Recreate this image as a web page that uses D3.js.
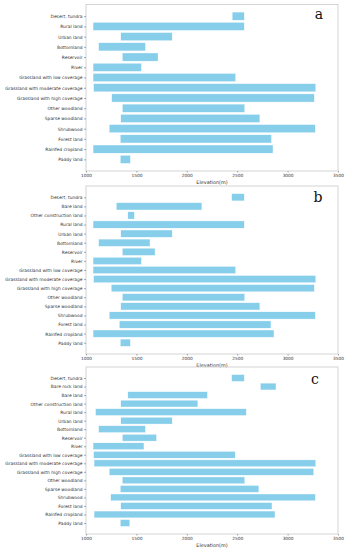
<!DOCTYPE html>
<html>
<head>
<meta charset="utf-8">
<script src="https://cdn.jsdelivr.net/npm/d3@7"></script>
<style>
  body { margin: 0; background: #fff; }
  svg { display: block; }
</style>
</head>
<body>
<svg id="chart" width="347" height="550"></svg>
<script>
// categories listed bottom -> top
const catsA = ["Paddy land", "Rainfed cropland", "Forest land", "Shrubwood", "Sparse woodland",
  "Other woodland", "Grassland with high coverage", "Grassland with moderate coverage",
  "Grassland with low coverage", "River", "Reservoir", "Bottomland", "Urban land", "Rural land",
  "Desert, tundra"];
const minA = [1340, 1070, 1340, 1230, 1345, 1360, 1255, 1075, 1070, 1070, 1360, 1125, 1345, 1070, 2450];
const maxA = [1440, 2855, 2840, 3275, 2725, 2575, 3265, 3280, 2485, 1550, 1715, 1590, 1855, 2570, 2570];

const catsB = ["Paddy land", "Rainfed cropland", "Forest land", "Shrubwood", "Sparse woodland",
  "Other woodland", "Grassland with high coverage", "Grassland with moderate coverage",
  "Grassland with low coverage", "River", "Reservoir", "Bottomland", "Urban land", "Rural land",
  "Other construction land", "Bare land", "Desert, tundra"];
const minB = [1340, 1070, 1330, 1230, 1345, 1360, 1250, 1075, 1070, 1070, 1360, 1125, 1345, 1070, 1415, 1300, 2445];
const maxB = [1440, 2865, 2835, 3275, 2725, 2575, 3265, 3280, 2485, 1550, 1685, 1635, 1855, 2570, 1480, 2150, 2570];

const catsC = ["Paddy land", "Rainfed cropland", "Forest land", "Shrubwood", "Sparse woodland",
  "Other woodland", "Grassland with high coverage", "Grassland with moderate coverage",
  "Grassland with low coverage", "River", "Reservoir", "Bottomland", "Urban land", "Rural land",
  "Other construction land", "Bare land", "Bare rock land", "Desert, tundra"];
const minC = [1340, 1080, 1345, 1245, 1340, 1360, 1230, 1080, 1075, 1070, 1360, 1125, 1345, 1095, 1345, 1415, 2730, 2445];
const maxC = [1435, 2875, 2845, 3275, 2715, 2575, 3260, 3280, 2480, 1575, 1700, 1590, 1855, 2590, 2110, 2205, 2885, 2570];

const xTicks = [1000, 1500, 2000, 2500, 3000, 3500];

const panels = [
  { cats: catsA, lo: minA, hi: maxA, top: 4.5, bottom: 171, tag: "a", tagX: 319, tagY: 19 },
  { cats: catsB, lo: minB, hi: maxB, top: 186, bottom: 354, tag: "b", tagX: 318, tagY: 202 },
  { cats: catsC, lo: minC, hi: maxC, top: 367, bottom: 534, tag: "c", tagX: 315, tagY: 384 }
];

const svg = d3.select("#chart");
const left = 86, right = 338;
const frameColor = "#d4d4d4";
const textColor = "#333";

panels.forEach(p => {
  const n = p.cats.length;
  const g = svg.append("g");

  const x = d3.scaleLinear().domain([1000, 3500]).range([left, right]);
  // matplotlib-like margins around barh (height 0.8)
  const pad = 0.05 * (n - 1 + 0.8);
  const y = d3.scaleLinear()
    .domain([-0.4 - pad, n - 1 + 0.4 + pad])
    .range([p.bottom, p.top]);
  const barH = y(0) - y(0.8);

  g.selectAll("rect.bar")
    .data(p.cats)
    .enter().append("rect")
    .attr("class", "bar")
    .attr("x", (d, i) => x(p.lo[i]))
    .attr("y", (d, i) => y(i + 0.4))
    .attr("width", (d, i) => x(p.hi[i]) - x(p.lo[i]))
    .attr("height", barH)
    .attr("fill", "#87ceeb")
    .attr("stroke", "#fff")
    .attr("stroke-width", 0.4);

  // frame
  g.append("rect")
    .attr("x", left).attr("y", p.top)
    .attr("width", right - left).attr("height", p.bottom - p.top)
    .attr("fill", "none")
    .attr("stroke", frameColor)
    .attr("stroke-width", 1);

  // y axis
  const yAxis = g.append("g")
    .attr("transform", "translate(" + left + ",0)")
    .call(d3.axisLeft(y).tickValues(d3.range(n)).tickSize(2).tickPadding(1.5)
      .tickFormat(i => p.cats[i]));
  yAxis.select(".domain").remove();
  yAxis.selectAll(".tick line").attr("stroke", "#555").attr("stroke-width", 0.5);
  yAxis.selectAll(".tick text")
    .attr("font-family", "DejaVu Sans, sans-serif")
    .attr("font-size", 4.4)
    .attr("fill", textColor);

  // x axis
  const xAxis = g.append("g")
    .attr("transform", "translate(0," + p.bottom + ")")
    .call(d3.axisBottom(x).tickValues(xTicks).tickSize(1.5).tickPadding(1.5)
      .tickFormat(d3.format("d")));
  xAxis.select(".domain").remove();
  xAxis.selectAll(".tick line").attr("stroke", "#555").attr("stroke-width", 0.5);
  xAxis.selectAll(".tick text")
    .attr("font-family", "DejaVu Sans, sans-serif")
    .attr("font-size", 4.3)
    .attr("fill", textColor);

  g.append("text")
    .attr("x", (left + right) / 2)
    .attr("y", p.bottom + 12.5)
    .attr("text-anchor", "middle")
    .attr("font-family", "DejaVu Sans, sans-serif")
    .attr("font-size", 4.9)
    .attr("fill", textColor)
    .text("Elevation(m)");

  g.append("text")
    .attr("x", p.tagX)
    .attr("y", p.tagY)
    .attr("text-anchor", "middle")
    .attr("font-family", "DejaVu Serif, Liberation Serif, serif")
    .attr("font-size", 14)
    .attr("fill", "#111")
    .text(p.tag);
});
</script>
</body>
</html>
